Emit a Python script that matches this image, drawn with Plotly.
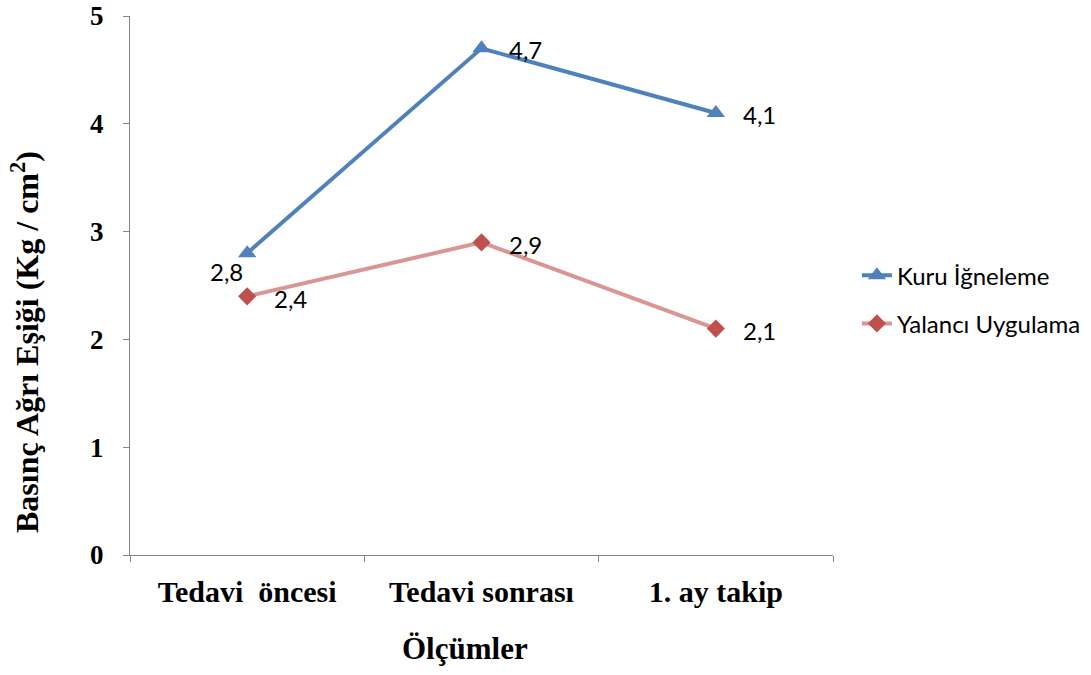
import plotly.graph_objects as go

# Measurement points and threshold means (kg/cm²)
categories = ["Tedavi\u00a0 öncesi", "Tedavi sonrası", "1. ay takip"]
kuru_igneleme = [2.8, 4.7, 4.1]
yalanci_uygulama = [2.4, 2.9, 2.1]
y_ticks = [0, 1, 2, 3, 4, 5]

serif = "Liberation Serif, Times New Roman, serif"
sans = "Lato, Carlito, Calibri, sans-serif"
label_font = dict(family=sans, size=24, color="#000")

fig = go.Figure()
fig.add_trace(go.Scatter(
    x=categories, y=kuru_igneleme, name="Kuru İğneleme", mode="lines+markers",
    line=dict(color="#4F81BD", width=4),
    marker=dict(symbol="triangle-up", size=16, color="#4F81BD"),
    legendgroup="a",
))
fig.add_trace(go.Scatter(
    x=categories, y=yalanci_uygulama, name="Yalancı Uygulama", mode="lines+markers",
    line=dict(color="#D99694", width=4),
    marker=dict(symbol="diamond", size=14, color="#C0504D"),
    legendgroup="b",
))

def fmt(v):
    return f"{v:.1f}".replace(".", ",")

# Value labels: right of the point, except the first blue one (below-left)
for i, (c, v) in enumerate(zip(categories, kuru_igneleme)):
    if i == 0:
        fig.add_annotation(x=c, y=v, text=fmt(v), showarrow=False, xanchor="center",
                           yanchor="middle", xshift=-21, yshift=-18, font=label_font)
    else:
        fig.add_annotation(x=c, y=v, text=fmt(v), showarrow=False, xanchor="left",
                           yanchor="middle", xshift=25, yshift=-1, font=label_font)
for c, v in zip(categories, yalanci_uygulama):
    fig.add_annotation(x=c, y=v, text=fmt(v), showarrow=False, xanchor="left",
                       yanchor="middle", xshift=25, yshift=-2, font=label_font)

# Axis titles
fig.add_annotation(xref="paper", yref="paper", x=(465 - 130) / 703, y=(555 - 648) / 539,
                   text="<b>Ölçümler</b>", showarrow=False, xanchor="center", yanchor="middle",
                   font=dict(family=serif, size=31, color="#000"))
fig.add_annotation(xref="paper", yref="paper", x=(25 - 130) / 703, y=(555 - 342) / 539,
                   text="<b>Basınç Ağrı Eşiği (Kg / cm<sup>2</sup>)</b>", textangle=-90,
                   showarrow=False, xanchor="center", yanchor="middle",
                   font=dict(family=serif, size=32, color="#000"))

fig.update_layout(
    width=1091, height=675,
    margin=dict(l=130, r=258, t=16, b=120, autoexpand=False),
    plot_bgcolor="white", paper_bgcolor="white",
    showlegend=True,
    legend=dict(x=1.034, xanchor="left", y=0.56, yanchor="top",
                font=dict(family=sans, size=24, color="#000"),
                tracegroupgap=14, bgcolor="rgba(0,0,0,0)"),
)
fig.update_xaxes(
    type="category", range=[-0.5, 2.5], tickson="boundaries",
    showline=True, linecolor="#868686", linewidth=1,
    ticks="outside", ticklen=6, tickcolor="#868686",
    showgrid=False, zeroline=False, automargin=False,
    tickfont=dict(family=serif, size=30, color="#000", weight="bold"),
    ticklabelstandoff=10,
)
fig.update_yaxes(
    range=[0, 5], tickvals=y_ticks,
    showline=True, linecolor="#868686", linewidth=1,
    ticks="outside", ticklen=6, tickcolor="#868686",
    showgrid=False, zeroline=False, automargin=False,
    tickfont=dict(family=serif, size=27, color="#000", weight="bold"),
    ticklabelstandoff=14,
)

fig.write_html("out.html")
